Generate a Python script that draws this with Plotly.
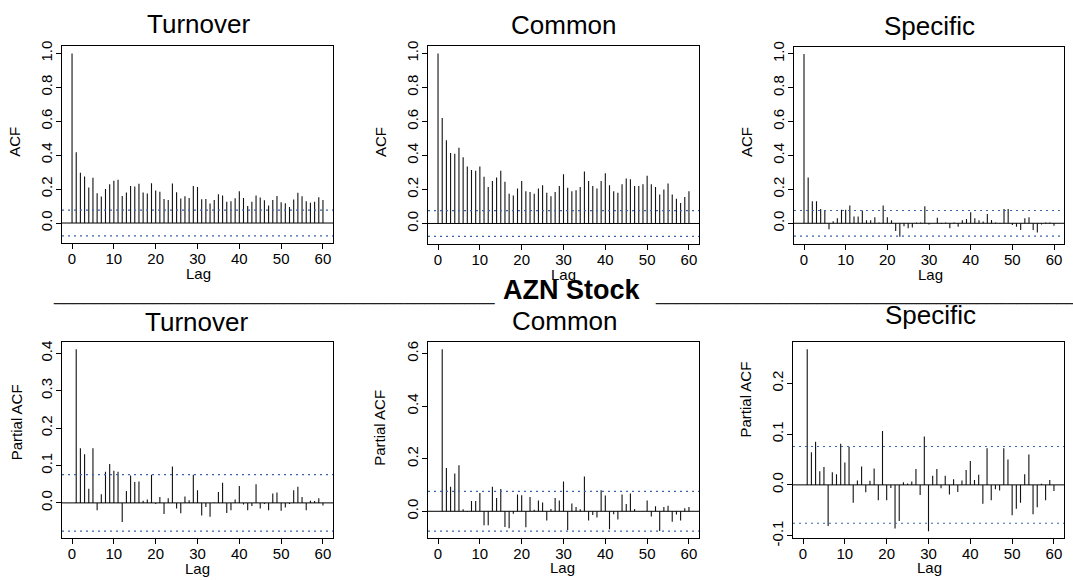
import plotly.graph_objects as go

# ---------------- data ----------------
lags_acf = list(range(0, 61))
lags_pacf = list(range(1, 61))
conf_limit = 0.0755

turnover_acf = [1.0, 0.417, 0.296, 0.275, 0.209, 0.267, 0.176, 0.156, 0.20, 0.229,
                0.249, 0.255, 0.16, 0.18, 0.219, 0.215, 0.231, 0.18, 0.174, 0.235,
                0.192, 0.184, 0.142, 0.136, 0.233, 0.182, 0.144, 0.158, 0.148, 0.219,
                0.213, 0.14, 0.142, 0.115, 0.136, 0.17, 0.162, 0.126, 0.128, 0.146,
                0.188, 0.148, 0.10, 0.126, 0.162, 0.15, 0.134, 0.103, 0.136, 0.16,
                0.122, 0.117, 0.095, 0.138, 0.178, 0.158, 0.128, 0.12, 0.125, 0.152,
                0.136]
common_acf = [1.0, 0.62, 0.49, 0.415, 0.41, 0.445, 0.39, 0.335, 0.315, 0.31,
              0.335, 0.275, 0.215, 0.25, 0.27, 0.31, 0.245, 0.175, 0.165, 0.205,
              0.25, 0.19, 0.185, 0.175, 0.205, 0.225, 0.18, 0.16, 0.185, 0.22,
              0.29, 0.21, 0.19, 0.195, 0.215, 0.305, 0.25, 0.22, 0.205, 0.25,
              0.295, 0.225, 0.19, 0.18, 0.23, 0.265, 0.26, 0.22, 0.22, 0.23,
              0.28, 0.23, 0.215, 0.17, 0.2, 0.235, 0.17, 0.145, 0.12, 0.155,
              0.19]
specific_acf = [1.0, 0.27, 0.13, 0.13, 0.085, 0.075, -0.035, 0.012, 0.03, 0.08,
                0.08, 0.105, 0.04, 0.04, 0.075, 0.018, 0.018, 0.035, 0.005, 0.105,
                0.035, 0.018, -0.045, -0.08, -0.018, -0.03, -0.025, 0.005, 0.005, 0.1,
                -0.008, 0.0, 0.032, -0.005, 0.005, -0.03, 0.005, -0.02, 0.018, 0.025,
                0.065, 0.03, 0.018, 0.01, 0.055, 0.02, 0.005, -0.003, 0.085, 0.085,
                -0.01, -0.02, -0.04, 0.03, 0.035, -0.04, -0.055, -0.008, 0.005, 0.005,
                -0.015]
turnover_pacf = [0.411, 0.146, 0.13, 0.0375, 0.146, -0.02, 0.023, 0.083, 0.104, 0.086,
                 0.083, -0.051, 0.032, 0.073, 0.056, 0.057, 0.006, 0.009, 0.075, -0.003,
                 0.016, -0.03, 0.0125, 0.097, -0.015, -0.028, 0.017, 0.007, 0.075, 0.034,
                 -0.034, -0.011, -0.037, 0.001, 0.029, 0.054, -0.027, -0.02, 0.009, 0.045,
                 -0.004, -0.02, -0.008, 0.05, -0.015, -0.003, -0.02, 0.025, 0.028, -0.021,
                 -0.0125, -0.003, 0.034, 0.043, 0.016, -0.02, 0.006, 0.005, 0.0125, -0.007]
common_pacf = [0.617, 0.165, 0.093, 0.144, 0.175, 0.008, -0.003, 0.039, 0.039, 0.07,
               -0.053, -0.053, 0.093, 0.051, 0.085, -0.06, -0.065, -0.009, 0.064, 0.061,
               -0.061, 0.054, 0.006, 0.041, 0.033, -0.035, 0.009, 0.051, 0.041, 0.113,
               -0.071, 0.03, 0.016, 0.008, 0.132, -0.035, -0.014, -0.024, 0.08, 0.06,
               -0.068, -0.011, -0.031, 0.064, 0.028, 0.068, 0.009, 0.001, 0.001, 0.041,
               -0.02, 0.019, -0.075, 0.016, 0.021, -0.04, -0.012, -0.035, 0.012, 0.016]
specific_pacf = [0.267, 0.064, 0.085, 0.027, 0.035, -0.081, 0.025, 0.021, 0.081, 0.044,
                 0.075, -0.035, 0.0085, 0.036, -0.0145, 0.008, 0.032, -0.03, 0.106, -0.03,
                 -0.006, -0.086, -0.071, 0.005, 0.0026, 0.0066, 0.031, -0.02, 0.095, -0.091,
                 0.018, 0.031, -0.0066, 0.018, -0.019, 0.011, -0.014, 0.0085, 0.0295, 0.047,
                 0.0098, 0.020, -0.037, 0.072, -0.030, -0.0085, -0.011, 0.072, 0.050, -0.06,
                 -0.047, -0.035, 0.021, 0.060, -0.058, -0.044, 0.002, -0.030, 0.0098, -0.012]

panel_titles = ["Turnover", "Common", "Specific", "Turnover", "Common", "Specific"]
y_labels = ["ACF", "ACF", "ACF", "Partial ACF", "Partial ACF", "Partial ACF"]
x_label = "Lag"
main_title = "AZN Stock"
x_tick_vals = [0, 10, 20, 30, 40, 50, 60]
y_tick_vals = [
    [0.0, 0.2, 0.4, 0.6, 0.8, 1.0],
    [0.0, 0.2, 0.4, 0.6, 0.8, 1.0],
    [0.0, 0.2, 0.4, 0.6, 0.8, 1.0],
    [0.0, 0.1, 0.2, 0.3, 0.4],
    [0.0, 0.2, 0.4, 0.6],
    [-0.1, 0.0, 0.1, 0.2],
]

series = [
    (lags_acf, turnover_acf), (lags_acf, common_acf), (lags_acf, specific_acf),
    (lags_pacf, turnover_pacf), (lags_pacf, common_pacf), (lags_pacf, specific_pacf),
]

# ---------------- layout geometry (target pixels) ----------------
W, H = 1073, 580
boxes = [(62, 333, 46, 242.5), (428, 699, 46, 243), (794, 1064, 46.5, 243.5),
         (62, 333, 341, 537), (428, 699, 341, 537), (793, 1064, 341, 537)]
title_pos = [(198.3, 23.5), (563, 24.5), (929.7, 26), (196.7, 321.5), (564.5, 320.5), (930, 314.5)]
ylab_pos = [(15, 141.5), (380, 141.7), (746, 141.7), (16.5, 421.7), (380, 426.7), (745.5, 399)]
xlab_pos = [(198.7, 273), (563, 274), (930, 274), (197.5, 567), (562.5, 566.5), (929, 566.5)]

FONT = "Liberation Sans, Arial, Helvetica, sans-serif"
# vertical calibration of the rendered page (observed offset / scale)
V_OFF, V_SCALE = 5.0, 0.975


def px(x):
    return x / W


def py(y):
    return 1 - ((y - V_OFF) / V_SCALE) / H


fig = go.Figure()
annotations = []
shapes = []

for i, ((lags, vals), box) in enumerate(zip(series, boxes)):
    n = i + 1
    xa = "x" if n == 1 else f"x{n}"
    ya = "y" if n == 1 else f"y{n}"
    xs, ys = [], []
    for l, v in zip(lags, vals):
        xs += [l, l, None]
        ys += [0, v, None]
    fig.add_trace(go.Scatter(x=xs, y=ys, mode="lines", xaxis=xa, yaxis=ya,
                             line=dict(color="#111111", width=1.1),
                             hoverinfo="skip", showlegend=False))
    lo = min(min(vals), -conf_limit)
    hi = max(max(vals), conf_limit)
    pad = 0.04 * (hi - lo)
    x0, x1, y0, y1 = box
    fig.layout[f"xaxis{'' if n == 1 else n}"] = dict(
        domain=[px(x0), px(x1)], anchor=ya, range=[-2.4, 62.4],
        showline=True, mirror=True, linecolor="black", linewidth=1,
        ticks="outside", ticklen=5, tickwidth=1, tickcolor="black",
        tickvals=x_tick_vals, showgrid=False, zeroline=False, ticklabelstandoff=-3,
        tickfont=dict(family=FONT, size=15, color="black"))
    fig.layout[f"yaxis{'' if n == 1 else n}"] = dict(
        domain=[py(y1), py(y0)], anchor=xa, range=[lo - pad, hi + pad],
        showline=True, mirror=True, linecolor="black", linewidth=1,
        ticks="outside", ticklen=5, tickwidth=1, tickcolor="black",
        tickvals=y_tick_vals[i], ticktext=[f"{v:.1f}" for v in y_tick_vals[i]],
        tickangle=-90, ticklabelstandoff=-2,
        showgrid=False, zeroline=False,
        tickfont=dict(family=FONT, size=15, color="black"))
    xd = f"{xa} domain"
    shapes.append(dict(type="line", xref=xd, yref=ya, x0=0, x1=1, y0=0, y1=0,
                       line=dict(color="black", width=1)))
    for c in (conf_limit, -conf_limit):
        shapes.append(dict(type="line", xref=xd, yref=ya, x0=0, x1=1, y0=c, y1=c,
                           line=dict(color="#3C64A8", width=1.2, dash="2px,4px")))
    tx, ty = title_pos[i]
    annotations.append(dict(text=panel_titles[i], x=px(tx), y=py(ty), xref="paper", yref="paper",
                            xanchor="center", yanchor="middle", showarrow=False,
                            font=dict(family=FONT, size=26, color="black")))
    lx, ly = ylab_pos[i]
    annotations.append(dict(text=y_labels[i], x=px(lx), y=py(ly), xref="paper", yref="paper",
                            xanchor="center", yanchor="middle", showarrow=False, textangle=-90,
                            font=dict(family=FONT, size=15, color="black")))
    gx, gy = xlab_pos[i]
    annotations.append(dict(text=x_label, x=px(gx), y=py(gy), xref="paper", yref="paper",
                            xanchor="center", yanchor="middle", showarrow=False,
                            font=dict(family=FONT, size=15, color="black")))

annotations.append(dict(text="<b>" + main_title + "</b>", x=px(571.5), y=py(289.5),
                        xref="paper", yref="paper", xanchor="center", yanchor="middle",
                        showarrow=False, font=dict(family=FONT, size=27, color="black")))
annotations.append(dict(text="_" * 44, x=px(51), y=py(294), xref="paper", yref="paper",
                        xanchor="left", yanchor="middle", showarrow=False,
                        font=dict(family=FONT, size=18, color="#222222")))
annotations.append(dict(text="_" * 42, x=px(653), y=py(294), xref="paper", yref="paper",
                        xanchor="left", yanchor="middle", showarrow=False,
                        font=dict(family=FONT, size=18, color="#222222")))

fig.update_layout(width=W, height=H, margin=dict(l=0, r=0, t=0, b=0),
                  paper_bgcolor="white", plot_bgcolor="white",
                  annotations=annotations, shapes=shapes, showlegend=False)

fig.write_html("out.html")
